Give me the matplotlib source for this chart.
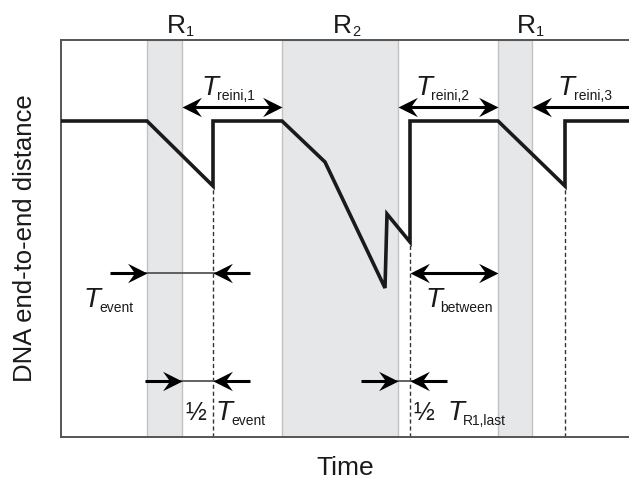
import matplotlib.pyplot as plt
from matplotlib.path import Path

plt.rcParams['font.family'] = ['Liberation Sans', 'DejaVu Sans']

# time axis in arbitrary units, distance axis in arbitrary units
region_names = ['R', 'R', 'R']
region_index = ['1', '2', '1']
region_start = [86, 221, 437]
region_end = [121, 337, 471]

trace_t = [0, 86, 152, 152, 221, 264, 324, 326, 349, 349, 437, 504, 504, 568]
trace_d = [316, 316, 251, 316, 316, 275, 149, 223, 195, 316, 316, 251, 316, 316]

# re-initiation instants (time, lowest distance reached)
reinit_t = [152, 349, 504]
reinit_d = [251, 195, 251]

# double arrows for the re-initiation and between times
reini_spans = [(121, 221), (337, 437), (471, 600)]
between_span = (349, 437)

# in-pointing arrow pairs: (left tip, right tip)
event_span = (86, 152)
half_event_span = (121, 152)
half_last_span = (337, 349)

T_MAX = 568
D_MAX = 397
ARROW_Y = 330
MID_Y = 164
LOW_Y = 56
TAIL = 37
INK = '#1a1a1a'

# notched arrow head, tip at the origin, pointing right
head_path = Path([(0, 0), (-1, 0.5), (-0.64, 0), (-1, -0.5), (0, 0)],
                 [Path.MOVETO, Path.LINETO, Path.LINETO, Path.LINETO, Path.CLOSEPOLY])
head_left = Path(head_path.vertices * [-1, 1], head_path.codes)


def head(ax, x, y, right=True):
    ax.plot([x], [y], marker=head_path if right else head_left, markersize=28,
            color='black', markeredgewidth=0, clip_on=False, zorder=6)


def shaft(ax, x0, x1, y, color='black', lw=2.2):
    ax.plot([x0, x1], [y, y], color=color, lw=lw, solid_capstyle='butt',
            clip_on=False, zorder=5)


def double_arrow(ax, x0, x1, y):
    if x1 <= T_MAX:
        shaft(ax, x0 + 8, x1 - 8, y)
        head(ax, x1, y, right=True)
    else:
        shaft(ax, x0 + 8, T_MAX, y)
    head(ax, x0, y, right=False)


def pinch_arrow(ax, x0, x1, y):
    shaft(ax, x0 - TAIL, x0 - 8, y)
    shaft(ax, x1 + 8, x1 + TAIL, y)
    shaft(ax, x0 - 4, x1 + 4, y, color='#555555', lw=1.3)
    head(ax, x0, y, right=True)
    head(ax, x1, y, right=False)


def symbol(ax, x, y, sub, prefix=None, prefix_x=None):
    if prefix:
        ax.text(prefix_x, y, prefix, fontsize=18, ha='left', va='baseline', color=INK)
    t = ax.text(x, y, 'T', fontsize=20, style='italic', ha='left', va='baseline', color=INK)
    ax.annotate(sub, xy=(1, 0), xycoords=t, xytext=(-1, 1), textcoords='offset points',
                fontsize=10, ha='left', va='baseline', color=INK)


fig = plt.figure(figsize=(6.29, 4.86), dpi=100)
ax = fig.add_axes([61 / 629, 1 - 437 / 486, 1 - 61 / 629, 397 / 486])
ax.set_xlim(0, T_MAX)
ax.set_ylim(0, D_MAX)

for name, idx, a, b in zip(region_names, region_index, region_start, region_end):
    ax.axvspan(a, b, facecolor='#e6e7e9', edgecolor='#c2c2c2', lw=1.0, zorder=0)
    label_t = b - 6 if b - a < 60 else (a + b) / 2 + 2
    r = ax.text(label_t, D_MAX + 7, name, fontsize=19, ha='center', va='baseline',
                color=INK, clip_on=False)
    ax.annotate(idx, xy=(1, 0), xycoords=r, xytext=(0.5, 1.5),
                textcoords='offset points', fontsize=10.5, ha='left', va='baseline',
                color=INK)

for t, d in zip(reinit_t, reinit_d):
    ax.plot([t, t], [0, d], color='#333333', lw=1.0, dashes=(3, 2), zorder=2)

ax.plot(trace_t, trace_d, color=INK, lw=2.6, solid_joinstyle='miter', zorder=4)

for a, b in reini_spans:
    double_arrow(ax, a, b, ARROW_Y)
double_arrow(ax, between_span[0], between_span[1], MID_Y)
pinch_arrow(ax, event_span[0], event_span[1], MID_Y)
pinch_arrow(ax, half_event_span[0], half_event_span[1], LOW_Y)
pinch_arrow(ax, half_last_span[0], half_last_span[1], LOW_Y)

symbol(ax, 140, 342, 'reini,1')
symbol(ax, 354, 342, 'reini,2')
symbol(ax, 497, 342, 'reini,3')
symbol(ax, 23, 130, 'event')
symbol(ax, 364, 130, 'between')
symbol(ax, 155, 17, 'event', prefix='½', prefix_x=124)
symbol(ax, 386, 17, 'R1,last', prefix='½', prefix_x=352)

for side in ['left', 'bottom', 'top']:
    ax.spines[side].set_color('#555555')
    ax.spines[side].set_linewidth(1.4)
ax.spines['right'].set_visible(False)
ax.set_xticks([])
ax.set_yticks([])
ax.set_xlabel('Time', fontsize=19, color=INK, labelpad=14)
ax.set_ylabel('DNA end-to-end distance', fontsize=18.5, color=INK, labelpad=17)

fig.savefig('out.png', dpi=100)
